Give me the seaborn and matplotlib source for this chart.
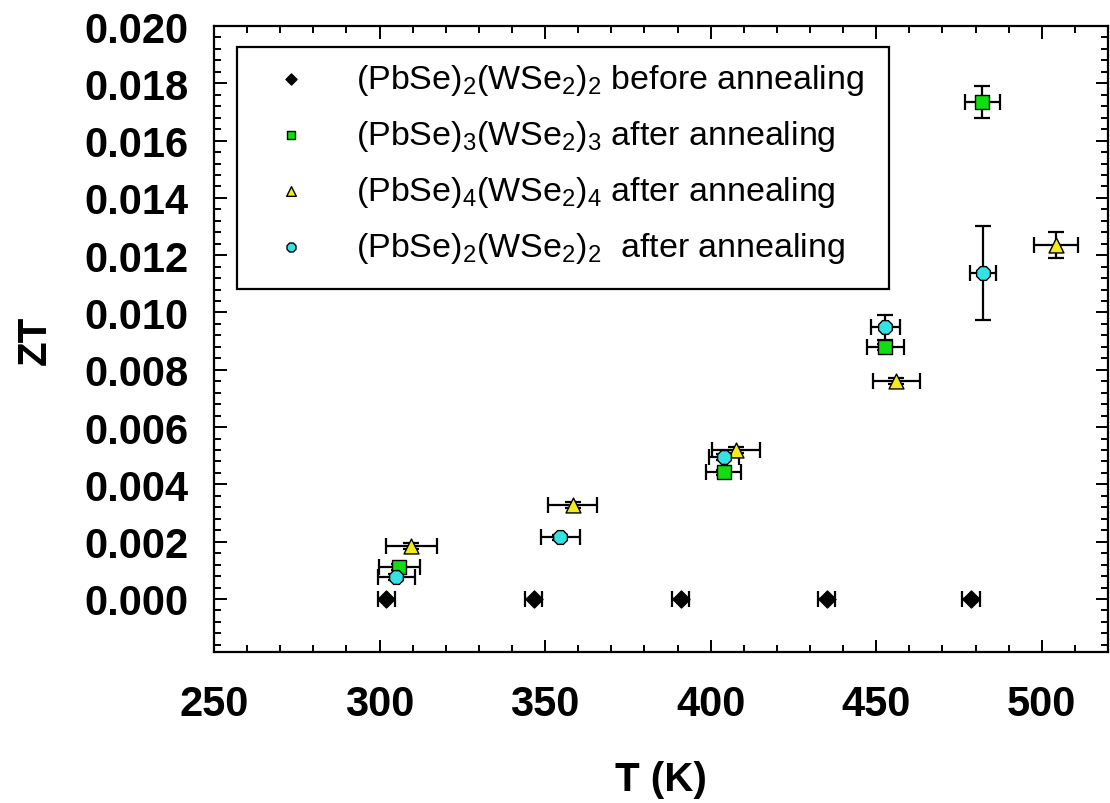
import matplotlib.pyplot as plt
import matplotlib.ticker as mticker
import matplotlib.patches as mpatches
import pandas as pd
import seaborn as sns

sns.set_style('ticks')
plt.rcParams['font.family'] = ['Liberation Sans', 'DejaVu Sans']
plt.rcParams['mathtext.fontset'] = 'custom'
plt.rcParams['mathtext.rm'] = 'Liberation Sans'
plt.rcParams['mathtext.default'] = 'regular'
plt.rcParams.update({'text.color': 'black', 'axes.labelcolor': 'black',
                     'xtick.color': 'black', 'ytick.color': 'black',
                     'axes.edgecolor': 'black'})

labels = ['(PbSe)$_2$(WSe$_2$)$_2$ before annealing',
          '(PbSe)$_3$(WSe$_2$)$_3$ after annealing',
          '(PbSe)$_4$(WSe$_2$)$_4$ after annealing',
          '(PbSe)$_2$(WSe$_2$)$_2$  after annealing']

# before annealing (2,2)
t_before = [302, 346.5, 391, 435, 478.6]
zt_before = [0.0, 0.0, 0.0, 0.0, 0.0]
terr_before = [2.6, 2.6, 2.6, 2.6, 2.6]
zterr_before = [0.0, 0.0, 0.0, 0.0, 0.0]

# (3,3) after annealing
t_33 = [305.9, 403.9, 452.8, 482.0]
zt_33 = [0.00111, 0.00442, 0.0088, 0.01734]
terr_33 = [6.2, 5.4, 5.5, 5.3]
zterr_33 = [0.0001, 0.0001, 0.0001, 0.00055]

# (4,4) after annealing
t_44 = [309.6, 358.4, 407.6, 456.1, 504.3]
zt_44 = [0.00186, 0.00328, 0.0052, 0.00762, 0.01236]
terr_44 = [7.8, 7.4, 7.3, 7.0, 6.5]
zterr_44 = [0.0001, 0.0001, 0.0001, 0.0001, 0.00045]

# (2,2) after annealing
t_22 = [305.1, 354.6, 404.1, 452.8, 482.2]
zt_22 = [0.00076, 0.00215, 0.00495, 0.00948, 0.01138]
terr_22 = [5.5, 5.8, 4.5, 4.3, 4.0]
zterr_22 = [0.0001, 0.0001, 0.0001, 0.00045, 0.00164]

series = [(t_before, zt_before, terr_before, zterr_before),
          (t_33, zt_33, terr_33, zterr_33),
          (t_44, zt_44, terr_44, zterr_44),
          (t_22, zt_22, terr_22, zterr_22)]
colors = ['black', '#11dd11', '#f2ea1c', '#33e3e3']
markers = ['D', 's', '^', '8']
sizes = [75, 95, 115, 115]

fig = plt.figure(figsize=(11.1, 8.04), dpi=100)
ax = fig.add_axes([214 / 1110, 1 - 653 / 804, 894 / 1110, 626 / 804])

for (t, zt, te, ze), lab, c, m, s in zip(series, labels, colors, markers, sizes):
    df = pd.DataFrame({'T': t, 'ZT': zt, 'Terr': te, 'ZTerr': ze})
    ax.errorbar(df['T'], df['ZT'], xerr=df['Terr'], yerr=df['ZTerr'], fmt='none',
                ecolor='black', elinewidth=1.6, capsize=6, capthick=1.6, zorder=2)
    sns.scatterplot(data=df, x='T', y='ZT', marker=m, color=c, s=s,
                    edgecolor='black', linewidth=1.0, label=lab, zorder=3, ax=ax)

ax.set_xlim(250, 520)
ax.set_ylim(-0.00185, 0.020)
ax.xaxis.set_major_locator(mticker.MultipleLocator(50))
ax.xaxis.set_minor_locator(mticker.MultipleLocator(10))
ax.yaxis.set_major_locator(mticker.MultipleLocator(0.002))
ax.yaxis.set_minor_locator(mticker.MultipleLocator(0.0004))
ax.yaxis.set_major_formatter(mticker.FormatStrFormatter('%.3f'))
ax.tick_params(which='both', direction='in', top=True, right=True, width=1.4)
ax.tick_params(which='major', length=9)
ax.tick_params(which='minor', length=5)
ax.tick_params(axis='x', which='major', pad=23)
ax.tick_params(axis='y', which='major', pad=18)
for lbl in ax.get_xticklabels() + ax.get_yticklabels():
    lbl.set_fontsize(30)
    lbl.set_fontweight('bold')
for sp in ax.spines.values():
    sp.set_linewidth(1.6)

ax.set_xlabel('T (K)', fontsize=29, fontweight='bold', labelpad=26)
ax.set_ylabel('ZT', fontsize=29, fontweight='bold', labelpad=22)

# legend box
box = mpatches.Rectangle((23 / 894, 363 / 626), 652 / 894, 242 / 626, transform=ax.transAxes,
                         facecolor='white', edgecolor='black', linewidth=1.6, zorder=4)
ax.add_patch(box)
handles, labs = ax.get_legend_handles_labels()
leg = ax.legend(handles, labs, loc='upper left', bbox_to_anchor=(23 / 894, 607 / 626),
                frameon=False, fontsize=24.5, markerscale=0.65, handlelength=2.2,
                handletextpad=0.8, borderpad=0.5, labelspacing=0.62, borderaxespad=0)
leg.set_zorder(5)

plt.savefig('out.png', dpi=100)
